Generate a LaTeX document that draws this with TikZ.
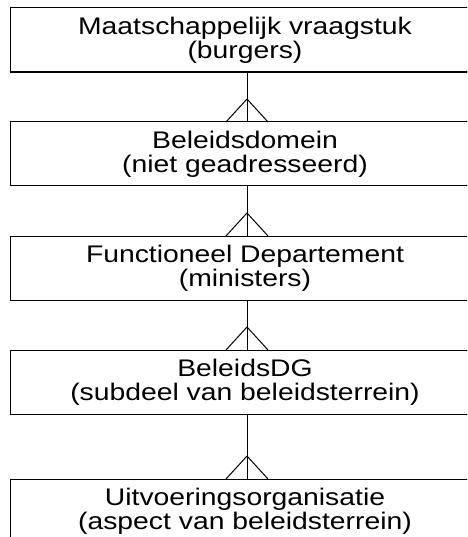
\documentclass[tikz,border=0pt]{standalone}
\usepackage{fontspec}
\setmainfont{Liberation Sans}[FakeStretch=1.18]
\usetikzlibrary{positioning,calc}

\begin{document}
\begin{tikzpicture}[x=1pt,y=-1pt,node distance=50pt,
  entity/.style={draw,line width=1pt,minimum width=470pt,minimum height=64pt,inner sep=0pt,outer sep=0pt,align=center,font=\fontsize{24}{24}\selectfont},
  link/.style={line width=1pt}]
\clip (0,0) rectangle (467,537);
\node[entity] (vraagstuk) at (245,40) {Maatschappelijk vraagstuk\\(burgers)};
\node[entity,below=of vraagstuk] (domein) {Beleidsdomein\\(niet geadresseerd)};
\node[entity,below=of domein] (departement) {Functioneel Departement\\(ministers)};
\node[entity,below=of departement] (dg) {BeleidsDG\\(subdeel van beleidsterrein)};
\node[entity,below=65pt of dg] (uitvoering) {Uitvoeringsorganisatie\\(aspect van beleidsterrein)};
\draw[line width=1.8pt] (vraagstuk.south west) -- (vraagstuk.south east);
% one-to-many links with crow's feet
\foreach \a/\b in {vraagstuk/domein,domein/departement,departement/dg,dg/uitvoering}{
  \draw[link] ($(\a.south)+(2,0)$) -- ($(\b.north)+(2,0)$);
  \draw[link] ($(\b.north)+(-19,0)$) -- ($(\b.north)+(2,-23)$) -- ($(\b.north)+(23,0)$);
}
\end{tikzpicture}
\end{document}
